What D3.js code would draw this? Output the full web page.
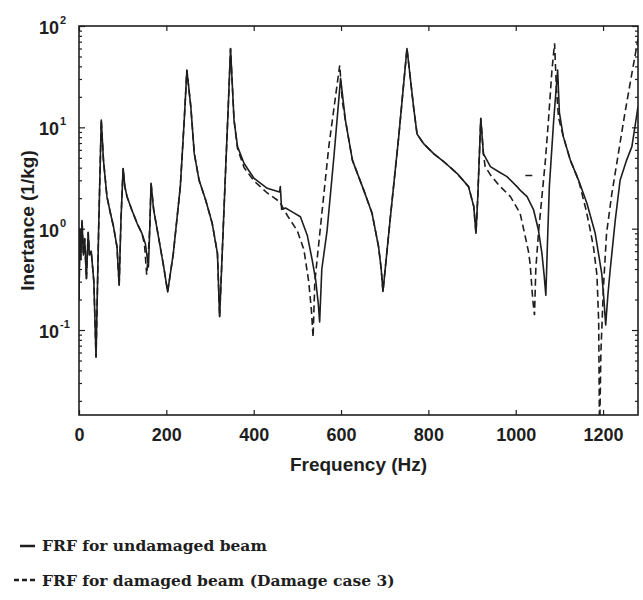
<!DOCTYPE html>
<html>
<head>
<meta charset="utf-8">
<script src="https://cdn.jsdelivr.net/npm/d3@7"></script>
<style>
  body { margin: 0; background: #fff; }
</style>
</head>
<body>
<div class="canvas"></div>
<script>
// frequency axis (Hz)
const xTicks = [0, 200, 400, 600, 800, 1000, 1200];
// decade labels on the log axis
const yMajor = [0.1, 1, 10, 100];
const yExp = ['-1', '0', '1', '2'];

// FRF for undamaged beam
const freqU = [0, 2, 4, 7, 10, 13, 17, 21, 24, 28, 34, 39, 45, 51, 56, 64, 72, 79, 87, 92,
  96, 101, 105, 110, 121, 133, 144, 152, 159, 162, 165, 171, 182, 194, 203, 216, 232, 241, 247,
  256, 264, 275, 290, 305, 317, 322, 335, 342, 347, 355, 363, 378, 401, 431, 459, 461, 464, 473,
  490, 507, 523, 534, 542, 548, 551, 556, 568, 584, 599, 610, 626, 652, 671, 686, 692, 696, 713,
  732, 751, 766, 774, 789, 812, 835, 866, 892, 904, 909, 913, 920, 926, 942, 961, 980, 1003,
  1010, 1026, 1041, 1052, 1060, 1065, 1069, 1073, 1077, 1087, 1096, 1100, 1109, 1125, 1144,
  1163, 1182, 1197, 1202, 1206, 1211, 1216, 1228, 1239, 1254, 1266, 1273, 1280];
const inertU = [0.2, 1.0, 0.5, 1.2, 0.55, 0.8, 0.32, 0.92, 0.55, 0.6, 0.3, 0.054, 1.0, 11.8, 4.75,
  2.07, 1.42, 1.05, 0.66, 0.277, 1.2, 3.93, 2.6, 2.07, 1.53, 1.13, 0.9, 0.71, 0.42, 1.0, 2.8,
  1.53, 0.83, 0.42, 0.238, 0.57, 2.6, 11.8, 36.8, 16, 5.5, 3.0, 1.92, 1.13, 0.57, 0.135, 3.2, 17,
  60, 11.8, 6.45, 4.4, 3.13, 2.5, 2.3, 2.6, 1.55, 1.6, 1.45, 1.31, 0.85, 0.49, 0.31, 0.18, 0.12,
  0.4, 0.95, 5.3, 30.4, 11.8, 4.75, 2.4, 1.42, 0.66, 0.4, 0.24, 1.3, 8, 60, 16, 8.6, 6.9, 5.5,
  4.6, 3.5, 2.6, 1.65, 0.9, 2, 12.3, 5.5, 4.1, 3.65, 3.26, 2.6, 2.4, 2.07, 1.53, 0.97, 0.57,
  0.35, 0.22, 0.8, 2.6, 11.8, 36.8, 14, 8.1, 4.75, 3.0, 1.78, 0.9, 0.36, 0.2, 0.112, 0.22, 0.38,
  1.22, 3.0, 4.75, 6.45, 10.1, 16];

// FRF for damaged beam (damage case 3), null breaks the line
const freqD = [0, 2, 4, 7, 10, 13, 17, 21, 24, 28, 34, 39, 45, 51, 56, 64, 72, 79, 87, 92,
  96, 101, 105, 110, 121, 133, 144, 150, 155, 159, 162, 165, 171, 182, 194, 203, 216, 232, 241,
  247, 256, 264, 275, 290, 305, 317, 322, 335, 342, 347, 355, 363, 378, 401, 431, 459, 477, 500,
  515, 526, 532, 536, 540, 553, 572, 597, 603, 610, 626, 652, 671, 686, 692, 696, 713, 732, 751,
  766, 774, 789, 812, 835, 866, 892, 904, 909, 913, 920, 926, 930, 942, 961, 988, 1010, 1022,
  1029, 1033, 1039, 1043, 1046, 1052, 1060, 1068, 1075, 1083, 1089, 1093, 1098, 1109, 1125,
  1144, 1160, 1170, 1178, 1186, 1190, 1192, 1195, 1201, 1208, 1220, 1235, 1250, 1266, 1277,
  1280, 1280, 1022, 1042];
const inertD = [0.2, 1.0, 0.5, 1.2, 0.55, 0.8, 0.32, 0.92, 0.55, 0.6, 0.3, 0.054, 1.0, 11.8, 4.75,
  2.07, 1.42, 1.05, 0.66, 0.277, 1.2, 3.93, 2.6, 2.07, 1.53, 1.13, 0.9, 0.7, 0.35, 0.6, 1.0, 2.8,
  1.53, 0.83, 0.42, 0.238, 0.57, 2.6, 11.8, 36.8, 16, 5.5, 3.0, 1.92, 1.13, 0.57, 0.135, 3.2, 17,
  60, 11.8, 6.2, 4.0, 2.95, 2.25, 1.85, 1.35, 0.95, 0.62, 0.3, 0.16, 0.085, 0.3, 1.05, 6.45, 41,
  18, 11.8, 4.75, 2.4, 1.42, 0.66, 0.4, 0.24, 1.3, 8, 60, 16, 8.6, 6.9, 5.5, 4.6, 3.5, 2.6, 1.65,
  0.9, 2, 12.3, 5.5, 4.1, 3.4, 2.7, 2.07, 1.42, 0.83, 0.6, 0.45, 0.2, 0.14, 0.4, 0.9, 2.07, 4.75,
  11.8, 36.8, 67.5, 25, 12.5, 8.1, 4.75, 3.0, 1.6, 1.0, 0.66, 0.35, 0.12, 0.008, 0.06, 0.27, 0.9,
  2.2, 5.5, 13.8, 34, 62.5, 75, null, 3.35, 3.35];

const legendLabels = ['FRF for undamaged beam', 'FRF for damaged beam (Damage case 3)'];

// dimensions
const dims = { width: 643, height: 600 };
const plot = { left: 79, top: 26, right: 638, bottom: 415 };

const svg = d3.select('.canvas')
  .append('svg')
    .attr('width', dims.width)
    .attr('height', dims.height);

// scales
const x = d3.scaleLinear().domain([0, 1280]).range([plot.left, plot.right]);
const y = d3.scaleLog().domain([0.0145, 100]).range([plot.bottom, plot.top]);

const ink = '#1e1e1e';
const sans = '"Liberation Sans", Arial, sans-serif';

// bottom axis, ticks pointing in
const xAxis = svg.append('g')
  .attr('transform', `translate(0, ${plot.bottom})`)
  .call(d3.axisBottom(x).tickValues(xTicks).tickSize(-5).tickPadding(13).tickFormat(d3.format('d')));
xAxis.selectAll('text')
  .attr('font-family', sans).attr('font-weight', 'bold').attr('font-size', 18).attr('fill', ink);

// top axis, no labels
svg.append('g')
  .attr('transform', `translate(0, ${plot.top})`)
  .call(d3.axisTop(x).tickValues(xTicks).tickSize(-5).tickFormat(''));

// log axes left and right with minor ticks
const allY = y.ticks().filter(d => d >= 0.0145 && d <= 100);
const isMajor = d => Math.abs(Math.log10(d) - Math.round(Math.log10(d))) < 1e-9;

const yLeft = svg.append('g')
  .attr('transform', `translate(${plot.left}, 0)`)
  .call(d3.axisLeft(y).tickValues(allY).tickSize(-3).tickFormat(''));
yLeft.selectAll('.tick line').filter(isMajor).attr('x2', 6);

const yRight = svg.append('g')
  .attr('transform', `translate(${plot.right}, 0)`)
  .call(d3.axisRight(y).tickValues(allY).tickSize(-3).tickFormat(''));
yRight.selectAll('.tick line').filter(isMajor).attr('x2', -6);

svg.selectAll('.domain').remove();
svg.selectAll('.tick line').attr('stroke', ink).attr('stroke-width', 1.2);

// frame
svg.append('rect')
  .attr('x', plot.left).attr('y', plot.top)
  .attr('width', plot.right - plot.left).attr('height', plot.bottom - plot.top)
  .attr('fill', 'none').attr('stroke', ink).attr('stroke-width', 1.6);

// decade labels 10^n
const yLab = svg.append('g')
  .attr('font-family', sans).attr('font-weight', 'bold').attr('fill', ink);
yMajor.forEach((v, i) => {
  yLab.append('text')
    .attr('x', 59).attr('y', y(v) + 8)
    .attr('text-anchor', 'end').attr('font-size', 18)
    .text('10');
  yLab.append('text')
    .attr('x', 60).attr('y', y(v) - 2)
    .attr('font-size', 11)
    .text(yExp[i]);
});

// axis titles
svg.append('text')
  .attr('x', (plot.left + plot.right) / 2).attr('y', 471)
  .attr('text-anchor', 'middle')
  .attr('font-family', sans).attr('font-weight', 'bold').attr('font-size', 19).attr('fill', ink)
  .text('Frequency (Hz)');

svg.append('text')
  .attr('transform', `translate(34, ${(plot.top + plot.bottom) / 2}) rotate(-90)`)
  .attr('text-anchor', 'middle')
  .attr('font-family', sans).attr('font-weight', 'bold').attr('font-size', 19).attr('fill', ink)
  .text('Inertance (1/kg)');

// clip so the deep antiresonance stays inside the frame
svg.append('clipPath').attr('id', 'clip')
  .append('rect')
    .attr('x', plot.left).attr('y', plot.top)
    .attr('width', plot.right - plot.left).attr('height', plot.bottom - plot.top);

const line = d3.line()
  .defined(d => d.v != null)
  .x(d => x(d.f))
  .y(d => y(d.v));

const undamaged = freqU.map((f, i) => ({ f, v: inertU[i] }));
const damaged = freqD.map((f, i) => ({ f, v: inertD[i] }));

const graph = svg.append('g').attr('clip-path', 'url(#clip)');

graph.append('path')
  .datum(undamaged)
  .attr('d', line)
  .attr('fill', 'none').attr('stroke', ink).attr('stroke-width', 1.6)
  .attr('stroke-linejoin', 'round');

graph.append('path')
  .datum(damaged)
  .attr('d', line)
  .attr('fill', 'none').attr('stroke', ink).attr('stroke-width', 1.6)
  .attr('stroke-dasharray', '7,4');

// legend
const legend = svg.append('g')
  .attr('font-family', '"DejaVu Serif", serif').attr('font-size', 15.5)
  .attr('font-weight', 'bold').attr('fill', ink);

legend.append('line')
  .attr('x1', 20).attr('x2', 35).attr('y1', 546).attr('y2', 546)
  .attr('stroke', ink).attr('stroke-width', 2.5);
legend.append('line')
  .attr('x1', 14).attr('x2', 36).attr('y1', 580).attr('y2', 580)
  .attr('stroke', ink).attr('stroke-width', 2.5).attr('stroke-dasharray', '5,3');

legend.selectAll('text.lab')
  .data(legendLabels)
  .enter()
  .append('text')
    .attr('class', 'lab')
    .attr('x', 42)
    .attr('y', (d, i) => 551 + i * 35)
    .text(d => d);
</script>
</body>
</html>
